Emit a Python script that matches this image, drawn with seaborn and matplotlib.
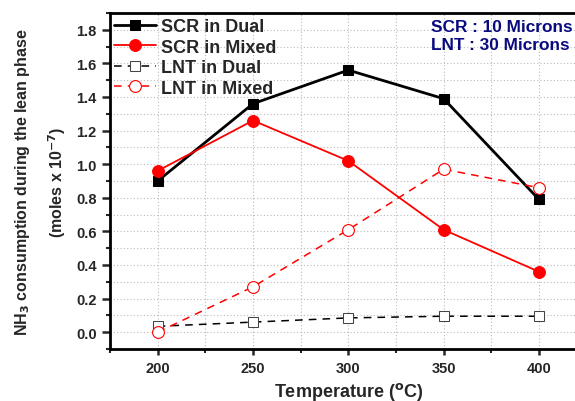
import matplotlib
matplotlib.use("Agg")
import matplotlib.pyplot as plt
import seaborn as sns
import pandas as pd
from matplotlib.ticker import MultipleLocator

temperature = [200, 250, 300, 350, 400]
scr_dual = [0.90, 1.36, 1.56, 1.39, 0.79]
scr_mixed = [0.96, 1.26, 1.02, 0.61, 0.36]
lnt_dual = [0.035, 0.06, 0.085, 0.095, 0.095]
lnt_mixed = [0.00, 0.27, 0.61, 0.97, 0.86]

sns.set_style("ticks")
plt.rcParams['font.family'] = ['Liberation Sans', 'DejaVu Sans']
plt.rcParams['font.weight'] = 'bold'
plt.rcParams['mathtext.default'] = 'bf'

fig = plt.figure(figsize=(5.75, 4.02), dpi=100)
ax = fig.add_axes([0.1913, 0.1294, 0.8289, 0.8358])

series = [
    ("SCR in Dual", scr_dual, dict(color="black", marker="s", linestyle="-", lw=2.0,
                                  markersize=7.5, markerfacecolor="black", markeredgecolor="black")),
    ("SCR in Mixed", scr_mixed, dict(color="red", marker="o", linestyle="-", lw=1.3,
                                    markersize=8.5, markerfacecolor="red", markeredgecolor="red")),
    ("LNT in Dual", lnt_dual, dict(color="black", marker="s", linestyle=(0, (5, 4)), lw=1.1,
                                  markersize=7.5, markerfacecolor="white", markeredgecolor="#444444")),
    ("LNT in Mixed", lnt_mixed, dict(color="red", marker="o", linestyle=(0, (5, 4)), lw=1.1,
                                    markersize=8.5, markerfacecolor="white", markeredgecolor="red",
                                    markeredgewidth=0.8)),
]
for name, vals, style in series:
    df = pd.DataFrame({"T": temperature, "v": vals})
    sns.lineplot(data=df, x="T", y="v", ax=ax, label=name, **style)

ax.set_xlim(175, 425)
ax.set_ylim(-0.1, 1.9)
ax.xaxis.set_minor_locator(MultipleLocator(25))
ax.yaxis.set_minor_locator(MultipleLocator(0.1))
ax.set_yticks([0.0, 0.2, 0.4, 0.6, 0.8, 1.0, 1.2, 1.4, 1.6, 1.8])
ax.set_xticks(temperature)
ax.grid(True, which="both", linestyle=(0, (1, 2)), color="#bbbbbb", lw=0.8)
ax.set_axisbelow(True)

for s in ["left", "bottom", "top"]:
    ax.spines[s].set_linewidth(2.0)
    ax.spines[s].set_color("black")
ax.spines["right"].set_visible(False)
ax.tick_params(axis="y", which="major", direction="out", length=6, width=1.8, labelsize=10.5, pad=3.5)
ax.tick_params(axis="x", which="major", direction="out", length=4.5, width=1.8, labelsize=10.5, pad=4.5)
ax.tick_params(axis="both", which="minor", direction="out", length=3, width=1.5)
for lab in ax.get_xticklabels() + ax.get_yticklabels():
    lab.set_fontweight("bold")

ax.set_xlabel("Temperature ($^{o}$C)", fontsize=13, fontweight="bold", labelpad=3)
ax.set_ylabel("NH$_3$ consumption during the lean phase\n(moles x 10$^{-7}$)",
              fontsize=11.5, fontweight="bold", labelpad=6, linespacing=1.85)

leg = ax.legend(loc="upper left", frameon=False, fontsize=13, handlelength=2.3,
                borderaxespad=0.1, labelspacing=0.2, handletextpad=0.3,
                bbox_to_anchor=(-0.01, 1.012))
for t in leg.get_texts():
    t.set_fontweight("bold")

fig.text(431 / 575, 1 - 27 / 402, "SCR : 10 Microns", fontsize=12.4, fontweight="bold",
         color="#0a0a80", va="center", ha="left")
fig.text(431 / 575, 1 - 46 / 402, "LNT : 30 Microns", fontsize=12.4, fontweight="bold",
         color="#0a0a80", va="center", ha="left")

fig.savefig("out.png", dpi=100)
